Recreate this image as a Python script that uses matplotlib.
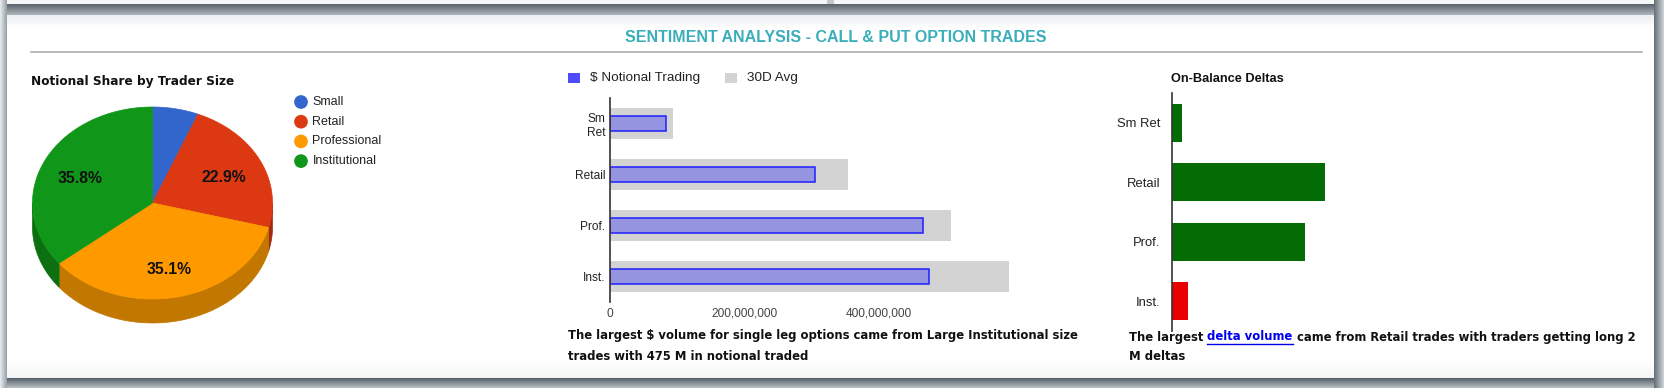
import numpy as np
import matplotlib
matplotlib.use('Agg')
import matplotlib.pyplot as plt
from matplotlib.patches import Polygon, Rectangle
from matplotlib.colors import to_rgb

# notional share pie (percent)
pie_labels = ['Small', 'Retail', 'Professional', 'Institutional']
pie_share = [6.2, 22.9, 35.1, 35.8]
pie_top = ['#3366cc', '#dc3912', '#ff9900', '#109618']
pie_side = ['#264c99', '#a52b0e', '#c27700', '#0c7011']

# $ notional trading vs 30 day average
bar_cats = ['Sm\nRet', 'Retail', 'Prof.', 'Inst.']
notional = [84e6, 305e6, 466e6, 475e6]
avg_30d = [94e6, 355e6, 508e6, 594e6]
notional_ticks = [0, 200e6, 400e6]

# on-balance deltas (negative = short)
delta_cats = ['Sm Ret', 'Retail', 'Prof.', 'Inst.']
deltas = [0.14e6, 2.0e6, 1.74e6, -0.22e6]

W, H = 1665, 388
fig = plt.figure(figsize=(W / 100, H / 100), dpi=100)
fig.patch.set_facecolor('#c3cacd')
cv = fig.add_axes([0, 0, 1, 1])
cv.set_xlim(0, W)
cv.set_ylim(H, 0)
cv.axis('off')


def grad(x0, y0, x1, y1, c0, c1, vertical=True, n=12):
    c0, c1 = np.array(to_rgb(c0)), np.array(to_rgb(c1))
    for i in range(n):
        f = i / (n - 1)
        col = c0 + (c1 - c0) * f
        if vertical:
            h = (y1 - y0) / n
            cv.add_patch(Rectangle((x0, y0 + i * h), x1 - x0, h + 0.3, fc=col, ec='none'))
        else:
            w = (x1 - x0) / n
            cv.add_patch(Rectangle((x0 + i * w, y0), w + 0.3, y1 - y0, fc=col, ec='none'))


# page frame and shadows
grad(0, 0, 7, H, '#e3e7e9', '#9aa4a9', vertical=False, n=7)
grad(1654, 0, W, H, '#68737a', '#d6dbdd', vertical=False, n=11)
cv.add_patch(Rectangle((7, 0), 820, 4, fc='#f7f8f8', ec='none'))
cv.add_patch(Rectangle((834, 0), 820, 4, fc='#f7f8f8', ec='none'))
grad(7, 4, 1654, 15, '#5c666c', '#aab3b8', n=11)
cv.add_patch(Rectangle((7, 15), 1647, 363, fc='white', ec='none'))
grad(7, 15, 1654, 30, '#eef0f1', '#ffffff', n=8)
grad(7, 360, 1654, 378, '#ffffff', '#f3f4f5', n=8)
grad(7, 378, 1654, 388, '#56616a', '#b5bdc1', n=10)

cv.text(836, 37, 'SENTIMENT ANALYSIS - CALL & PUT OPTION TRADES', color='#3aaeba',
        fontsize=11.5, fontweight='bold', ha='center', va='center',
        family=['Liberation Sans Narrow', 'Liberation Sans', 'DejaVu Sans'])
cv.plot([31, 1642], [51.5, 51.5], color='#a4a4a4', lw=1.1)

# ---- 3D pie ----
cv.text(31, 81, 'Notional Share by Trader Size', fontsize=8.75, fontweight='bold',
        va='center', color='#111', family='DejaVu Sans')
cx, cy, rx, ry, depth = 152.5, 203, 120, 96, 24
bounds = np.concatenate([[0], np.cumsum(pie_share)]) / sum(pie_share) * 360


def ell(t, dy=0.0):
    t = np.radians(t)
    return cx + rx * np.sin(t), cy - ry * np.cos(t) + dy


for a0, a1, col in zip(bounds[:-1], bounds[1:], pie_side):
    lo, hi = max(a0, 90), min(a1, 270)
    if hi > lo:
        t = np.linspace(lo, hi, 80)
        xt, yt = ell(t)
        xb, yb = ell(t[::-1], depth)
        cv.add_patch(Polygon(np.column_stack([np.r_[xt, xb], np.r_[yt, yb]]),
                             fc=col, ec=col, lw=0.5))
for a0, a1, col in zip(bounds[:-1], bounds[1:], pie_top):
    t = np.linspace(a0, a1, 120)
    xt, yt = ell(t)
    cv.add_patch(Polygon(np.column_stack([np.r_[cx, xt], np.r_[cy, yt]]),
                         fc=col, ec=col, lw=0.5))
for a0, a1, share in zip(bounds[:-1], bounds[1:], pie_share):
    if share < 10:
        continue
    m = np.radians((a0 + a1) / 2)
    cv.text(cx + 0.667 * rx * np.sin(m), cy + 3.5 - 0.667 * ry * np.cos(m), f'{share:.1f}%',
            fontsize=11.3, fontweight='bold', ha='center', va='center',
            family='Liberation Sans', color='#111')

leg_y = 102 + np.arange(len(pie_labels)) * 19.7
cv.scatter([301] * len(pie_labels), leg_y, s=78, c=pie_top, zorder=3)
for yy, lab in zip(leg_y, pie_labels):
    cv.text(312.5, yy, lab, fontsize=9, va='center', family='Liberation Sans', color='#222')

# ---- notional bars ----
ax1 = fig.add_axes([610 / W, 1 - 302 / H, 403 / W, 204 / H])
ax1.patch.set_alpha(0)
y = np.arange(len(bar_cats))
ax1.barh(y, avg_30d, height=0.61, color='#d3d3d3')
ax1.barh(y, notional, height=0.31, color='#9494e0', edgecolor='#1f1fff', lw=1.1)
ax1.set_xlim(0, 600e6)
ax1.set_ylim(3.5, -0.5)
ax1.set_yticks(y, bar_cats)
ax1.set_xticks(notional_ticks, [f'{v:,.0f}' for v in notional_ticks])
for s in ['top', 'right', 'bottom']:
    ax1.spines[s].set_visible(False)
ax1.spines['left'].set_color('#333')
ax1.spines['left'].set_linewidth(1.2)
ax1.tick_params(length=0, labelsize=8.6, labelcolor='#222')
ax1.tick_params(axis='x', pad=4, labelcolor='#444')
ax1.tick_params(axis='y', pad=3.5)
for lab in ax1.get_xticklabels() + ax1.get_yticklabels():
    lab.set_family('Liberation Sans')

cv.add_patch(Rectangle((568, 73), 12, 10, fc='#4d4dff', ec='none'))
cv.text(590, 78, '$ Notional Trading', fontsize=9.7, va='center', family='Liberation Sans', color='#222')
cv.add_patch(Rectangle((725, 73), 12, 10, fc='#d3d3d3', ec='none'))
cv.text(747, 78, '30D Avg', fontsize=9.7, va='center', family='Liberation Sans', color='#222')

cap = dict(fontsize=8.35, fontweight='bold', family='DejaVu Sans', color='#111', va='center')
cv.text(568, 336, 'The largest $ volume for single leg options came from Large Institutional size', **cap)
cv.text(568, 356, 'trades with 475 M in notional traded', **cap)

# ---- on-balance deltas ----
ax2 = fig.add_axes([1171.5 / W, 1 - 331 / H, 310 / W, 238 / H])
ax2.patch.set_alpha(0)
ax2.barh(y, np.abs(deltas), height=0.64,
         color=['#046c04' if d > 0 else '#e80000' for d in deltas])
ax2.set_xlim(0, 310 / 77 * 1e6)
ax2.set_ylim(3.5, -0.5)
ax2.set_yticks(y, delta_cats)
ax2.set_xticks([])
for s in ['top', 'right', 'bottom']:
    ax2.spines[s].set_visible(False)
ax2.spines['left'].set_color('#333')
ax2.spines['left'].set_linewidth(1.2)
ax2.tick_params(length=0, labelsize=9.4, labelcolor='#222', pad=8)
for lab in ax2.get_yticklabels():
    lab.set_family('Liberation Sans')
cv.text(1171, 79, 'On-Balance Deltas', fontsize=9.2, fontweight='bold', va='center',
        family='Liberation Sans', color='#111')

r = fig.canvas.get_renderer()


def width(s):
    t = cv.text(0, 0, s, **cap)
    w = t.get_window_extent(r).width
    t.remove()
    return w


space = width('a a') - width('aa')
x = 1129
parts = [('The largest', '#111'), ('delta volume', '#0000ee'),
         ('came from Retail trades with traders getting long 2', '#111')]
for s, col in parts:
    c = dict(cap)
    c['color'] = col
    cv.text(x, 337, s, **c)
    w = width(s)
    if col == '#0000ee':
        cv.plot([x, x + w], [343.5, 343.5], color=col, lw=1)
    x += w + space
cv.text(1129, 357, 'M deltas', **cap)

cv.set_xlim(0, W)
cv.set_ylim(H, 0)
fig.savefig('out.png', dpi=100)
